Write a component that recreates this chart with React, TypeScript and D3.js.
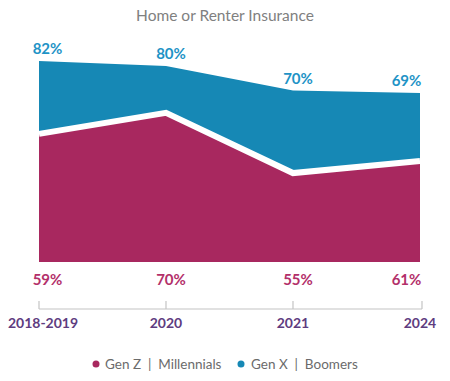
import React from "react";
import * as d3 from "d3";

const categories = ["2018-2019", "2020", "2021", "2024"];
const genXBoomers = [82, 80, 70, 69];
const genZMillennials = [59, 70, 55, 61];
// Height of the Gen Z | Millennials shape as drawn in the picture (percent scale)
const genZShape = [52.3, 60.9, 36.3, 41.2];
const legendLabels = ["Gen Z  |  Millennials", "Gen X  |  Boomers"];
const title = "Home or Renter Insurance";

const W = 450;
const H = 381;
const BLUE = "#1688B5";
const RED = "#A8285F";
const BLUE_TXT = "#1E93C6";
const RED_TXT = "#B3306A";
const FONT = "Lato, 'Open Sans', sans-serif";

export default function App() {
  const x = d3.scalePoint<string>().domain(categories).range([39, 420]);
  const y = d3.scaleLinear().domain([0, 100]).range([262, 17]);

  const area = d3
    .area<number>()
    .x((_, i) => x(categories[i]) as number)
    .y0(y(0))
    .y1((d) => y(d));
  const line = d3
    .line<number>()
    .x((_, i) => x(categories[i]) as number)
    .y((d) => y(d));

  const labelX = (i: number, w: number) => {
    const cx = (x(categories[i]) as number) + (i === 0 || i === categories.length - 1 ? 0 : 5);
    const minC = 32 + w / 2;
    const maxC = 422 - w / 2;
    return Math.max(minC, Math.min(maxC, cx));
  };

  const axisY = 309;
  const [r0, r1] = x.range();

  return (
    <svg width={W} height={H} style={{ position: "absolute", left: 0, top: 0, background: "#fff" }} fontFamily={FONT}>
      <text x={225} y={21} textAnchor="middle" fontSize={15.5} fill="#808080">
        {title}
      </text>

      <path d={area(genXBoomers) || ""} fill={BLUE} />
      <path d={area(genZShape) || ""} fill={RED} />
      <path d={line(genZShape) || ""} fill="none" stroke="#fff" strokeWidth={6} />

      {genXBoomers.map((v, i) => (
        <text
          key={"b" + i}
          x={labelX(i, 31)}
          y={y(v) - 7}
          textAnchor="middle"
          fontSize={15}
          fontWeight={700}
          fill={BLUE_TXT}
        >
          {v}%
        </text>
      ))}
      {genZMillennials.map((v, i) => (
        <text
          key={"r" + i}
          x={labelX(i, 31)}
          y={285}
          textAnchor="middle"
          fontSize={15}
          fontWeight={700}
          fill={RED_TXT}
        >
          {v}%
        </text>
      ))}

      <g stroke="#c4c4c4" strokeWidth={1.2}>
        <line x1={r0} x2={r1 + 2} y1={axisY} y2={axisY} />
        {categories.map((c, i) => (
          <line key={c} x1={(x(c) as number) + (i === categories.length - 1 ? 2 : 0)} x2={(x(c) as number) + (i === categories.length - 1 ? 2 : 0)} y1={axisY - 8} y2={axisY} />
        ))}
      </g>
      {categories.map((c, i) => (
        <text
          key={"t" + c}
          x={(x(c) as number) + (i === 0 ? 4 : 0)}
          y={328}
          textAnchor="middle"
          fontSize={14}
          fontWeight={700}
          fill="#5E3C80"
        >
          {c}
        </text>
      ))}

      <g fontSize={13.5} fill="#6b6b6b">
        <circle cx={96} cy={364} r={3.5} fill={RED} />
        <text x={105} y={368.5} style={{ whiteSpace: "pre" }}>
          {legendLabels[0]}
        </text>
        <circle cx={241} cy={364} r={3.5} fill={BLUE} />
        <text x={251} y={368.5} style={{ whiteSpace: "pre" }}>
          {legendLabels[1]}
        </text>
      </g>
    </svg>
  );
}
